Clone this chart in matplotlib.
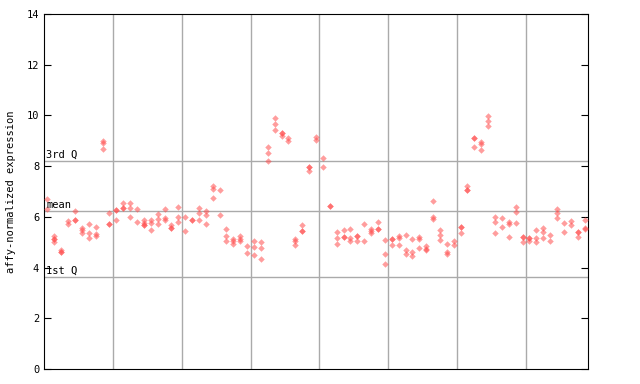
import numpy as np
import matplotlib
matplotlib.use("Agg")
import matplotlib.pyplot as plt

# expression values per sample (replicates)
values = [
    [6.72, 6.32], [5.25, 5.13, 5.13, 5.01], [4.71, 4.62, 4.62], [5.84, 5.73],
    [6.22, 5.87, 5.87], [5.56, 5.47, 5.38], [5.73, 5.38, 5.18], [5.62, 5.34, 5.25],
    [9.0, 8.91, 8.69], [6.17, 5.71, 5.71], [6.27, 6.27, 5.87], [6.55, 6.35, 6.35],
    [6.55, 6.36, 6.01], [6.32, 5.81], [5.87, 5.76, 5.66, 5.66], [5.87, 5.77, 5.49],
    [6.13, 5.93, 5.73], [6.32, 5.96, 5.87], [5.66, 5.55, 5.55], [6.39, 6.01, 5.81],
    [6.01, 5.46], [5.87, 5.87], [6.36, 6.17, 5.87], [6.22, 6.06, 5.73],
    [7.2, 7.11, 6.76], [7.07, 6.09], [5.51, 5.26, 5.06], [5.13, 5.03, 4.93],
    [5.24, 5.13, 5.06], [4.87, 4.59], [5.04, 4.82, 4.51], [4.99, 4.79, 4.32],
    [8.74, 8.53, 8.21], [9.88, 9.68, 9.43], [9.3, 9.3, 9.17], [9.13, 9.01],
    [5.14, 5.03, 4.91], [5.69, 5.45, 5.45], [7.98, 7.98, 7.82], [9.15, 9.04],
    [8.31, 7.98], [6.44, 6.44], [5.42, 5.18, 4.95], [5.5, 5.21, 5.21],
    [5.54, 5.18, 5.03], [5.25, 5.25, 5.06], [5.73, 5.06], [5.54, 5.45, 5.37],
    [5.8, 5.52, 5.52], [5.1, 4.55, 4.16], [5.12, 5.12, 4.91], [5.26, 5.18, 4.91],
    [5.3, 4.68, 4.55], [5.14, 4.63, 4.47], [5.22, 5.14, 4.79], [4.87, 4.75, 4.68],
    [6.64, 6.01, 5.93], [5.5, 5.3, 5.1], [4.95, 4.63, 4.55], [5.06, 4.91],
    [5.6, 5.6, 5.38], [7.23, 7.06, 7.06], [9.11, 9.11, 8.77], [8.96, 8.88, 8.65],
    [9.99, 9.79, 9.59], [6.01, 5.81, 5.38], [5.97, 5.62], [5.8, 5.72, 5.22],
    [6.4, 6.21, 5.77], [5.22, 5.22, 4.99], [5.17, 5.17, 5.06], [5.5, 5.18, 4.99],
    [5.58, 5.42, 5.18], [5.27, 5.06], [6.32, 6.17, 5.97], [5.77, 5.42],
    [5.85, 5.69], [5.42, 5.42, 5.22], [5.89, 5.58, 5.54],
]
q3 = 8.21
mean = 6.22
q1 = 3.62
group_lines = [10, 20, 30, 40, 50, 60, 70]

font = "DejaVu Sans Mono"
fig = plt.figure(figsize=(6.4, 3.84), dpi=100)
ax = fig.add_axes([0.06875, 0.039, 0.85, 0.9245])

for x in group_lines:
    ax.axvline(x, color="#aaaaaa", lw=1, zorder=1)
for y in (q3, mean, q1):
    ax.axhline(y, color="#aaaaaa", lw=1, zorder=1)

xs, ys = [], []
for i, vals in enumerate(values):
    for v in vals:
        xs.append(i + 0.5)
        ys.append(v)
ax.plot(xs, ys, "D", ms=3.3, color="#ff4d4d", alpha=0.55, mec="none", zorder=3)

ax.text(0.3, q3 + 0.05, "3rd Q", family=font, fontsize=7.5, va="bottom", ha="left")
ax.text(0.3, mean + 0.05, "mean", family=font, fontsize=7.5, va="bottom", ha="left")
ax.text(0.3, q1 + 0.05, "1st Q", family=font, fontsize=7.5, va="bottom", ha="left")

ax.set_xlim(0, len(values))
ax.set_ylim(0, 14)
ax.set_xticks([])
ax.set_yticks(range(0, 15, 2))
ax.tick_params(axis="y", direction="in", length=5, labelsize=7.5, right=True)
for lab in ax.get_yticklabels():
    lab.set_family(font)
ax.set_ylabel("affy-normalized expression", family=font, fontsize=7.5, labelpad=8)

fig.savefig("out.png", dpi=100)
